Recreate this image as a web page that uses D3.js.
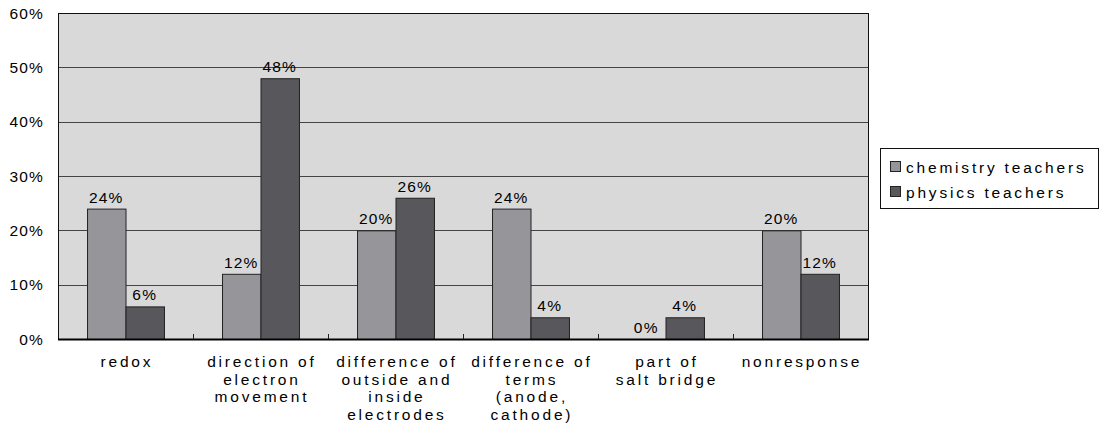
<!DOCTYPE html>
<html>
<head>
<meta charset="utf-8">
<script src="https://cdn.jsdelivr.net/npm/d3@7"></script>
<style>
  body { margin: 0; background: #fff; }
  svg text { font-family: "Liberation Sans", Arial, sans-serif; fill: #000; }
</style>
</head>
<body>
<svg id="chart" width="1100" height="423"></svg>
<script>
// Response categories (multi-line labels split by "\n")
const categories = [
  "redox",
  "direction of\nelectron\nmovement",
  "difference of\noutside and\ninside\nelectrodes",
  "difference of\nterms\n(anode,\ncathode)",
  "part of\nsalt bridge",
  "nonresponse"
];
const seriesNames = ["chemistry teachers", "physics teachers"];
const chemistryValues = [24, 12, 20, 24, 0, 20];
const physicsValues = [6, 48, 26, 4, 4, 12];
const yTicks = [0, 10, 20, 30, 40, 50, 60];

const colors = ["#96969a", "#58585c"];

const svg = d3.select("#chart");
const plot = { left: 58, top: 13, right: 868, bottom: 339 };

const x = d3.scaleBand()
  .domain(categories)
  .range([plot.left, plot.right])
  .paddingInner(0.43)
  .paddingOuter(0.215);

const y = d3.scaleLinear()
  .domain([0, 60])
  .range([plot.bottom, plot.top]);

// Plot background
svg.append("rect")
  .attr("x", plot.left).attr("y", plot.top)
  .attr("width", plot.right - plot.left)
  .attr("height", plot.bottom - plot.top)
  .attr("fill", "#d9d9d9");

// Horizontal gridlines
svg.append("g")
  .selectAll("line")
  .data(yTicks.filter(t => t > 0 && t < 60))
  .join("line")
  .attr("x1", plot.left).attr("x2", plot.right)
  .attr("y1", d => Math.round(y(d)) + 0.5)
  .attr("y2", d => Math.round(y(d)) + 0.5)
  .attr("stroke", "#444").attr("stroke-width", 1);

// Bars
const groups = categories.map((c, i) => ({ cat: c, vals: [chemistryValues[i], physicsValues[i]] }));
const sub = d3.scaleBand().domain([0, 1]).range([0, x.bandwidth()]);

const g = svg.append("g").selectAll("g")
  .data(groups)
  .join("g")
  .attr("transform", d => `translate(${x(d.cat)},0)`);

g.selectAll("rect")
  .data(d => d.vals.map((v, k) => ({ v, k })))
  .join("rect")
  .attr("x", d => sub(d.k) + 0.5)
  .attr("y", d => y(d.v) + 0.5)
  .attr("width", sub.bandwidth())
  .attr("height", d => Math.max(0, y(0) - y(d.v)))
  .attr("fill", d => colors[d.k])
  .attr("stroke", d => d.v > 0 ? "#222" : "none")
  .attr("stroke-width", 1);

// Value labels
g.selectAll("text.val")
  .data(d => d.vals.map((v, k) => ({ v, k })))
  .join("text")
  .attr("class", "val")
  .attr("x", d => sub(d.k) + sub.bandwidth() / 2)
  .attr("y", d => y(d.v) - 6)
  .attr("text-anchor", "middle")
  .style("font-size", "15.5px")
  .style("letter-spacing", "1.2px")
  .text(d => d.v + "%");

// Plot border
svg.append("rect")
  .attr("x", plot.left + 0.5).attr("y", plot.top + 0.5)
  .attr("width", plot.right - plot.left)
  .attr("height", plot.bottom - plot.top)
  .attr("fill", "none").attr("stroke", "#111").attr("stroke-width", 1);

// X axis line with category dividers
const xAxisG = svg.append("g");
xAxisG.append("line")
  .attr("x1", plot.left).attr("x2", plot.right + 1)
  .attr("y1", plot.bottom + 0.5).attr("y2", plot.bottom + 0.5)
  .attr("stroke", "#000").attr("stroke-width", 2);
const step = x.step();
xAxisG.selectAll("line.div")
  .data(d3.range(1, categories.length))
  .join("line")
  .attr("class", "div")
  .attr("x1", i => Math.round(plot.left + i * step) + 0.5)
  .attr("x2", i => Math.round(plot.left + i * step) + 0.5)
  .attr("y1", plot.bottom).attr("y2", plot.bottom - 5)
  .attr("stroke", "#222");

// Category labels
svg.append("g").selectAll("text")
  .data(categories)
  .join("text")
  .attr("text-anchor", "middle")
  .style("font-size", "15.5px")
  .style("letter-spacing", "2.8px")
  .attr("transform", d => `translate(${x(d) + x.bandwidth() / 2 + 1.4},367)`)
  .each(function (d) {
    d3.select(this).selectAll("tspan")
      .data(d.split("\n"))
      .join("tspan")
      .attr("x", 0)
      .attr("dy", (l, i) => i === 0 ? 0 : 17.7)
      .text(l => l);
  });

// Y axis labels
svg.append("g").selectAll("text")
  .data(yTicks)
  .join("text")
  .attr("x", 44)
  .attr("y", d => y(d) + 5.5)
  .attr("text-anchor", "end")
  .style("font-size", "15.5px")
  .style("letter-spacing", "1.2px")
  .text(d => d + "%");

// Legend
const legend = svg.append("g");
legend.append("rect")
  .attr("x", 880.5).attr("y", 148.5)
  .attr("width", 218).attr("height", 60)
  .attr("fill", "#fff").attr("stroke", "#111");
const items = legend.selectAll("g")
  .data(seriesNames)
  .join("g")
  .attr("transform", (d, i) => `translate(890,${161 + i * 25})`);
items.append("rect")
  .attr("x", 0.5).attr("y", 0.5).attr("width", 10).attr("height", 10)
  .attr("fill", (d, i) => colors[i]).attr("stroke", "#222");
items.append("text")
  .attr("x", 16).attr("y", 11.5)
  .style("font-size", "15.5px")
  .style("letter-spacing", "2.8px")
  .text(d => d);
</script>
</body>
</html>
